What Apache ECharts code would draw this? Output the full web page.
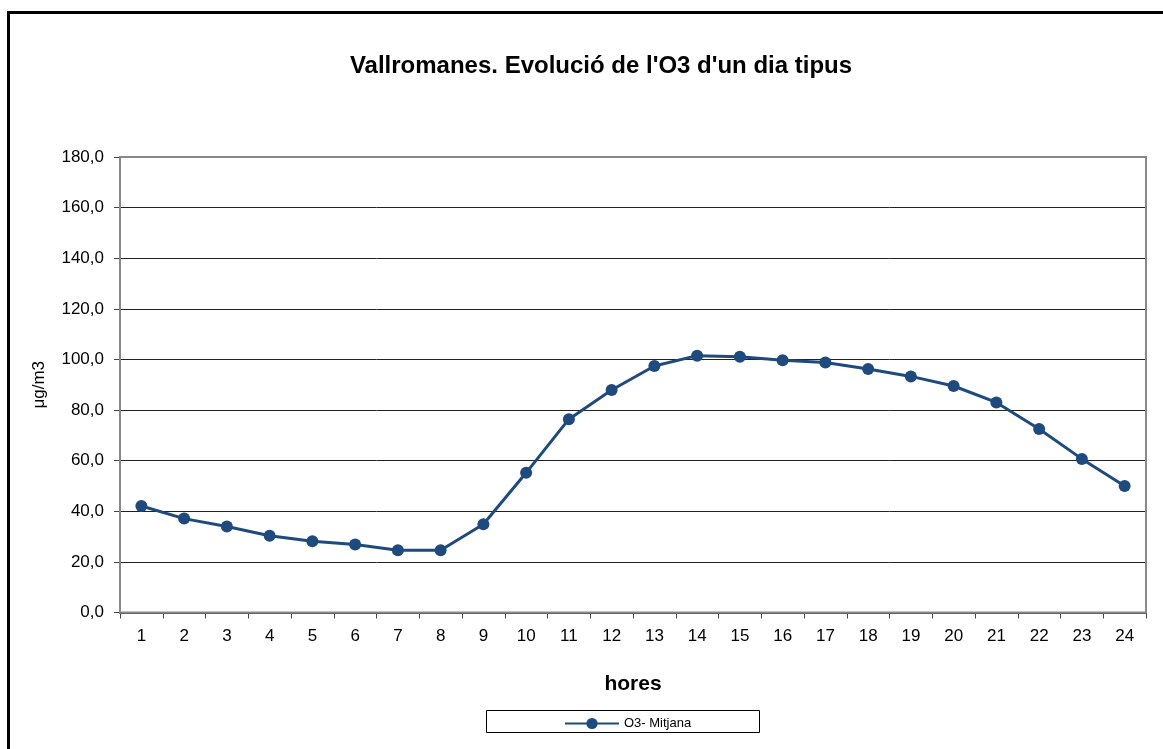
<!DOCTYPE html>
<html>
<head>
<meta charset="utf-8">
<script src="https://cdn.jsdelivr.net/npm/echarts@6/dist/echarts.min.js"></script>
<style>
html,body{margin:0;padding:0;background:#fff;}
#c{width:1163px;height:749px;}
</style>
</head>
<body>
<div id="c"></div>
<script>
const hours = ['1','2','3','4','5','6','7','8','9','10','11','12','13','14','15','16','17','18','19','20','21','22','23','24'];
const o3Mitjana = [42.1, 37.1, 34.0, 30.3, 28.2, 26.9, 24.6, 24.6, 34.9, 55.2, 76.4, 87.9, 97.4, 101.5, 101.1, 99.7, 98.8, 96.2, 93.3, 89.5, 83.0, 72.5, 60.7, 50.0];
const yTicks = { min: 0, max: 180, interval: 20 };

const chart = echarts.init(document.getElementById('c'));
const font = 'Liberation Sans, Arial, sans-serif';
chart.setOption({
  backgroundColor: '#fff',
  animation: false,
  title: {
    text: "Vallromanes. Evolució de l'O3 d'un dia tipus",
    left: 596, top: 49, textAlign: 'center',
    textStyle: { fontFamily: font, fontSize: 24, fontWeight: 'bold', color: '#000' }
  },
  graphic: [
    { type: 'rect', shape: { x: 8.5, y: 12.5, width: 1300, height: 900 },
      style: { fill: 'none', stroke: '#000', lineWidth: 3 }, silent: true },
    { type: 'rect', shape: { x: 120, y: 157, width: 1026, height: 455.5 },
      style: { fill: 'none', stroke: '#888', lineWidth: 2 }, silent: true, z: 1 },
    { type: 'rect', shape: { x: 486.5, y: 710.5, width: 273, height: 22 },
      style: { fill: '#fff', stroke: '#000', lineWidth: 1 }, silent: true, z: 0 }
  ],
  legend: {
    data: ['O3- Mitjana'],
    left: 559, top: 712,
    itemWidth: 54, itemHeight: 14, itemGap: 4,
    textStyle: { fontFamily: font, fontSize: 13, color: '#000' },
    z: 10
  },
  grid: { left: 120, right: 17, top: 157, bottom: 136.5, containLabel: false },
  xAxis: {
    type: 'category', data: hours, boundaryGap: true,
    name: 'hores', nameLocation: 'middle', nameGap: 61,
    nameTextStyle: { fontFamily: font, fontSize: 21, fontWeight: 'bold', color: '#000' },
    axisLine: { lineStyle: { color: '#444', width: 2 } },
    axisTick: { show: true, alignWithLabel: false, length: 6, lineStyle: { color: '#444', width: 1 } },
    axisLabel: { fontFamily: font, fontSize: 17, color: '#000', margin: 15, interval: 0 }
  },
  yAxis: {
    type: 'value', min: yTicks.min, max: yTicks.max, interval: yTicks.interval,
    name: 'μg/m3', nameLocation: 'middle', nameGap: 72, nameRotate: 90,
    nameTextStyle: { fontFamily: font, fontSize: 17, color: '#000' },
    axisLine: { show: true, lineStyle: { color: '#444', width: 2 } },
    axisTick: { show: true, length: 6, lineStyle: { color: '#444', width: 1 } },
    axisLabel: { fontFamily: font, fontSize: 17, color: '#000', margin: 16,
      formatter: v => v.toFixed(1).replace('.', ',') },
    splitLine: { show: true, lineStyle: { color: '#222', width: 1 } }
  },
  series: [{
    name: 'O3- Mitjana', type: 'line', data: o3Mitjana,
    symbol: 'circle', symbolSize: 12,
    lineStyle: { color: '#1f4a7d', width: 3 },
    itemStyle: { color: '#1f4a7d' },
    z: 5
  }]
});
</script>
</body>
</html>
